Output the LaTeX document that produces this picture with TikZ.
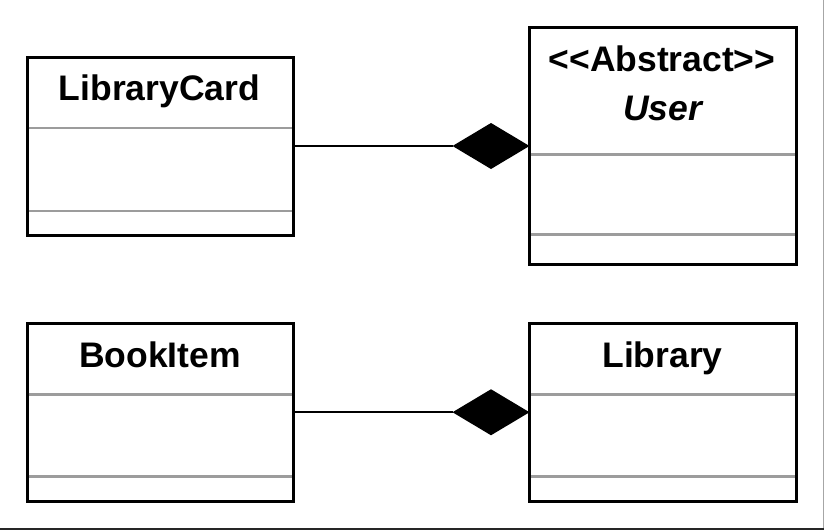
\documentclass[tikz,border=0pt]{standalone}
\usepackage{fontspec}
\setmainfont{Liberation Sans}
\usetikzlibrary{shapes.geometric}
\definecolor{sepgray}{HTML}{9C9C9C}
\begin{document}
\begin{tikzpicture}[x=1pt,y=-1pt,
  classbox/.style={draw=black, line width=3pt, minimum width=266.5pt, inner sep=0pt, outer sep=0pt, anchor=north west},
  sepline/.style={draw=sepgray, line width=2.6pt, shorten <=1.5pt, shorten >=1.5pt},
  title/.style={font=\fontsize{35.5}{42}\selectfont\bfseries, anchor=base, inner sep=0pt},
  comp/.style={diamond, fill=black, minimum width=77pt, minimum height=46pt, inner sep=0pt, outer sep=0pt, anchor=east},
  link/.style={line width=2.2pt}]
\useasboundingbox (0,0) rectangle (825,530);
\fill[white] (0,0) rectangle (825,530);
\draw[gray!70, line width=1.5pt] (823.5,0) -- (823.5,528.8);
\draw[black!85, line width=1.5pt] (0,528.8) -- (824.25,528.8);

% LibraryCard
\node[classbox, minimum height=178pt] (lc) at (27,57) {};
\draw[sepline] ([yshift=-71pt]lc.north west) -- ([yshift=-71pt]lc.north east);
\draw[sepline] ([yshift=-154pt]lc.north west) -- ([yshift=-154pt]lc.north east);
\node[title] (lct) at (159.5,100) {LibraryCard};

% User
\node[classbox, minimum height=237pt] (user) at (529.5,27.5) {};
\draw[sepline] ([yshift=-127pt]user.north west) -- ([yshift=-127pt]user.north east);
\draw[sepline] ([yshift=-207pt]user.north west) -- ([yshift=-207pt]user.north east);
\node[title] (usert1) at (662,71) {<{}<Abstract>{}>};
\node[title, font=\fontsize{35.5}{42}\selectfont\bfseries\itshape] (usert2) at (662.75,120) {User};

% BookItem
\node[classbox, minimum height=177.5pt] (bi) at (27,323.5) {};
\draw[sepline] ([yshift=-71pt]bi.north west) -- ([yshift=-71pt]bi.north east);
\draw[sepline] ([yshift=-153pt]bi.north west) -- ([yshift=-153pt]bi.north east);
\node[title] (bit) at (160,367.5) {BookItem};

% Library
\node[classbox, minimum height=177.5pt] (lib) at (529.5,323.5) {};
\draw[sepline] ([yshift=-71pt]lib.north west) -- ([yshift=-71pt]lib.north east);
\draw[sepline] ([yshift=-153pt]lib.north west) -- ([yshift=-153pt]lib.north east);
\node[title] (libt) at (662.5,367.5) {Library};

% compositions
\node[comp] (d1) at (user.west) {};
\draw[link] (lc.east) -- (d1.west);
\node[comp] (d2) at (lib.west) {};
\draw[link] (bi.east) -- (d2.west);
\end{tikzpicture}
\end{document}
